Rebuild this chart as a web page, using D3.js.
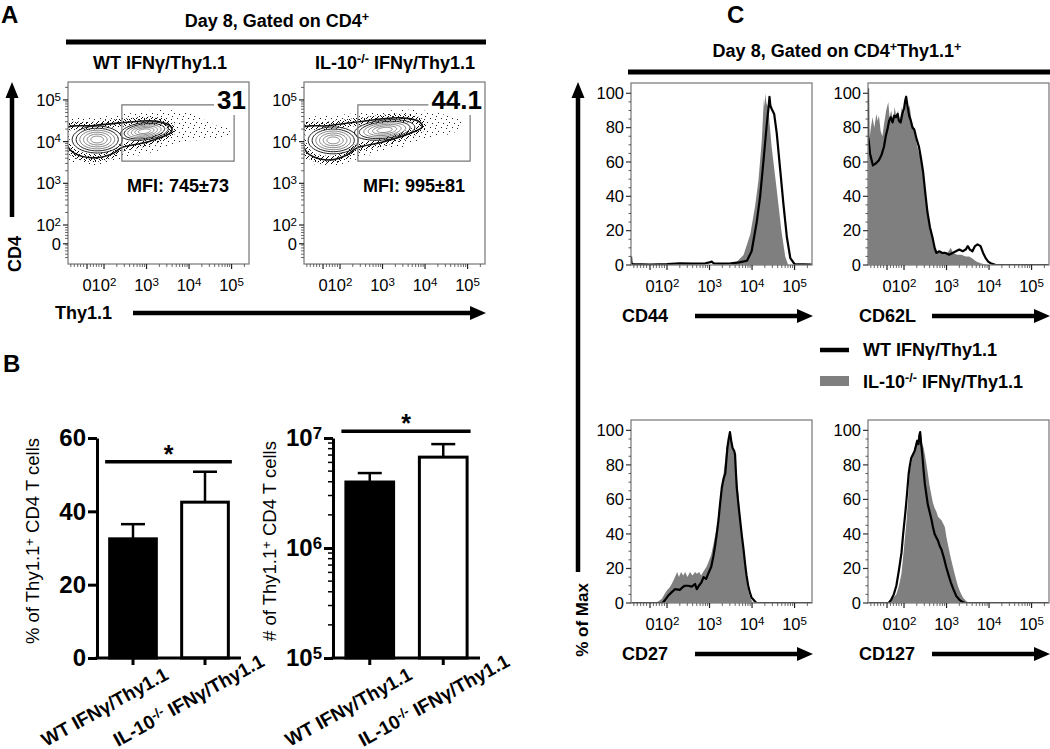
<!DOCTYPE html>
<html><head><meta charset="utf-8">
<script src="https://cdn.jsdelivr.net/npm/d3@7"></script>
<style>body{margin:0;background:#fff} svg{font-family:"Liberation Sans",Arial,Helvetica,sans-serif}</style>
</head><body><svg id="fig" width="1050" height="749"></svg>
<script>
// ================= DATA =================
const groups = ["WT IFNγ/Thy1.1", "IL-10^{-/-} IFNγ/Thy1.1"];
// Panel B
const pctMean = [32.5, 42.5];
const pctErr = [4.0, 8.3];
const pctTicks = [0, 20, 40, 60];
const pctSig = 53.5;
const countMean = [3.98e6, 6.7e6];
const countUpper = [4.8e6, 8.8e6];
const countTicks = [1e5, 1e6, 1e7];
const countTickLabels = ["10^{5}", "10^{6}", "10^{7}"];
const countSig = 1.15e7;
// Flow axes (logicle display position, in decades)
const flowTickPos = [1.6, 2, 3, 4, 5];
const flowTickLabels = ["0", "10^{2}", "10^{3}", "10^{4}", "10^{5}"];
const flowYTickPosA = [1.55, 2, 3, 4, 5];
const histTicks = [0, 20, 40, 60, 80, 100];
// Panel A
const gateNumbers = ["31", "44.1"];
const mfiLabels = ["MFI: 745±73", "MFI: 995±81"];
const gateBox = [2.42, 5.06, 3.53, 4.88];            // x0, x1, y0, y1
const envelopes = [
  [[1.13,4.33],[1.7,4.38],[2.4,4.45],[3.25,4.49],[3.58,4.35],[3.58,4.23],[3.01,3.99],[2.4,3.85],[2.24,3.73],[1.77,3.61],[1.29,3.73],[1.13,3.92]],
  [[1.13,4.33],[1.7,4.38],[2.4,4.47],[3.41,4.57],[3.88,4.47],[3.93,4.35],[3.72,4.23],[3.01,3.99],[2.4,3.85],[2.16,3.68],[1.76,3.56],[1.29,3.68],[1.13,3.92]]
];
const halos = [
  [[1.13,4.47],[1.91,4.59],[2.61,4.68],[3.32,4.76],[3.91,4.71],[4.26,4.57],[4.61,4.40],[4.96,4.28],[4.85,4.09],[4.26,4.04],[3.79,3.97],[3.32,3.80],[2.85,3.68],[2.38,3.56],[1.79,3.44],[1.32,3.51],[1.13,3.56]],
  [[1.13,4.49],[2.0,4.64],[2.71,4.71],[3.41,4.76],[4.0,4.74],[4.47,4.64],[4.87,4.47],[4.71,4.23],[4.12,4.09],[3.53,3.89],[2.94,3.75],[2.35,3.56],[1.76,3.41],[1.29,3.49],[1.13,3.56]]
];
const blobs = [
  [{cx:1.84, cy:4.05, rx:0.62, ry:0.34, rot:0}, {cx:2.95, cy:4.25, rx:0.6, ry:0.22, rot:8}],
  [{cx:1.84, cy:4.03, rx:0.62, ry:0.34, rot:0}, {cx:3.05, cy:4.28, rx:0.75, ry:0.25, rot:6}]
];
const ringScales = [0.95, 0.8, 0.66, 0.52, 0.38, 0.24];
// Panel C histograms: [display position, % of max]
const cd44Grey = [[1.153,0],[3.5,0],[3.64,1.9],[3.8,5.8],[3.96,18],[4.07,34],[4.15,49],[4.23,73],[4.26,88],[4.28,97],[4.30,92],[4.31,100],[4.34,94],[4.38,92],[4.46,69],[4.58,44],[4.69,20],[4.78,5],[4.85,0],[5.41,0]];
const cd44Black = [[1.153,5],[1.165,1],[1.2,0.5],[1.6,0.3],[2.0,0.5],[2.3,1],[2.6,0.8],[2.9,1],[3.0,1.5],[3.05,2],[3.1,1],[3.3,0.8],[3.5,1],[3.7,1.5],[3.88,2.5],[3.99,8],[4.11,25],[4.19,40],[4.27,61],[4.35,83],[4.39,92],[4.41,98],[4.43,93],[4.46,91],[4.52,88],[4.58,77],[4.66,56],[4.74,35],[4.82,16],[4.9,4],[5.0,0.5],[5.41,0.3]];
const cd62lGrey = [[1.153,0],[1.155,65],[1.18,72],[1.22,80],[1.26,86],[1.3,80],[1.35,88],[1.38,84],[1.41,87],[1.45,78],[1.49,75],[1.53,82],[1.58,90],[1.63,95],[1.66,86],[1.7,90],[1.74,84],[1.78,92],[1.82,86],[1.86,90],[1.9,84],[1.95,92],[2.0,88],[2.05,97],[2.09,90],[2.13,93],[2.18,84],[2.23,80],[2.28,73],[2.34,66],[2.4,61],[2.45,52],[2.49,44],[2.54,33],[2.59,25],[2.65,17],[2.71,12],[2.78,8],[2.85,7],[2.95,8],[3.02,7],[3.1,10],[3.15,7],[3.25,6],[3.35,6],[3.45,5],[3.53,5],[3.6,4],[3.7,2],[3.8,1],[3.9,0.5],[4.0,0],[5.41,0]];
const cd62lBlack = [[1.153,103],[1.16,75],[1.2,65],[1.27,58],[1.33,59],[1.41,61],[1.47,64],[1.53,69],[1.57,75],[1.61,79],[1.65,84],[1.69,86],[1.73,83],[1.77,87],[1.81,86],[1.85,88],[1.88,84],[1.92,83],[1.96,88],[2.0,91],[2.03,96],[2.05,98],[2.08,93],[2.12,87],[2.16,84],[2.2,80],[2.24,79],[2.3,73],[2.35,69],[2.4,62],[2.45,54],[2.5,42],[2.55,31],[2.61,22],[2.67,16],[2.72,10],[2.76,7],[2.83,8],[2.9,7],[2.98,7],[3.06,6],[3.14,7],[3.22,8],[3.3,9],[3.38,8],[3.45,9],[3.5,11],[3.55,9],[3.61,8],[3.67,11],[3.73,12],[3.8,11],[3.86,7],[3.92,4],[3.98,2],[4.04,1],[4.16,0],[5.41,0]];
const cd27Grey = [[1.153,0],[1.72,0],[1.8,1],[1.88,2.5],[1.94,5],[2.0,7.4],[2.06,9],[2.11,11],[2.17,14],[2.24,18],[2.28,15],[2.33,18],[2.38,16],[2.43,18],[2.48,15],[2.54,18],[2.6,16],[2.66,18],[2.7,17],[2.76,18],[2.8,16],[2.85,18],[2.93,21],[2.98,24],[3.04,28],[3.1,35],[3.17,44],[3.21,52],[3.25,61],[3.29,68],[3.33,75],[3.37,83],[3.4,90],[3.44,94],[3.47,97],[3.5,94],[3.55,89],[3.6,85],[3.64,74],[3.68,63],[3.72,51],[3.76,40],[3.8,29],[3.84,19],[3.88,12],[3.92,6],[3.96,3],[4.0,1],[4.05,0],[5.41,0]];
const cd27Black = [[1.153,0],[1.9,0],[1.96,2],[2.02,4],[2.1,6],[2.19,8],[2.3,7.6],[2.36,9],[2.42,10],[2.5,10],[2.58,9.5],[2.66,11],[2.7,8],[2.75,10],[2.81,12],[2.86,15],[2.92,14],[2.97,17],[3.04,21],[3.09,27],[3.13,33],[3.17,40],[3.21,48],[3.25,58],[3.29,67],[3.33,72],[3.37,75],[3.4,84],[3.42,90],[3.45,95],[3.48,99],[3.51,94],[3.54,90],[3.58,88],[3.6,86],[3.62,76],[3.64,67],[3.68,57],[3.72,48],[3.76,39],[3.8,31],[3.84,22],[3.87,16],[3.91,10],[3.95,6],[3.99,3],[4.03,2],[4.1,0],[5.41,0]];
const cd127Grey = [[1.153,0],[1.6,0],[1.66,1],[1.74,3],[1.82,5],[1.88,10],[1.94,17],[2.0,32],[2.06,48],[2.1,62],[2.13,75],[2.17,81],[2.21,86],[2.25,90],[2.29,94],[2.32,92],[2.35,97],[2.37,95],[2.4,98],[2.43,92],[2.46,90],[2.49,86],[2.53,80],[2.56,75],[2.6,68],[2.64,63],[2.68,58],[2.72,55],[2.76,53],[2.8,50],[2.84,49],[2.88,48],[2.92,46],[2.96,44],[3.0,38],[3.04,33],[3.1,26],[3.15,21],[3.21,15],[3.27,9.5],[3.33,6],[3.39,3],[3.45,1.5],[3.5,0.5],[3.55,0],[5.41,0]];
const cd127Black = [[1.153,0],[1.64,0],[1.7,2],[1.76,5],[1.82,10],[1.88,19],[1.94,29],[1.98,40],[2.03,52],[2.07,63],[2.11,75],[2.14,80],[2.17,84],[2.21,86],[2.25,88],[2.28,91],[2.31,94],[2.34,92],[2.36,97],[2.38,99],[2.4,93],[2.43,86],[2.46,77],[2.49,69],[2.53,62],[2.56,57],[2.6,53],[2.64,49],[2.68,44],[2.72,40],[2.76,38],[2.8,36],[2.84,33],[2.88,31],[2.94,26],[2.99,21],[3.05,16],[3.1,12],[3.16,8],[3.23,4],[3.3,2],[3.35,1],[3.43,0],[5.41,0]];
const markers = ["CD44", "CD62L", "CD27", "CD127"];

// ================= HELPERS =================
const svg = d3.select("#fig");
const defs = svg.append("defs");
const flowXDomain = [1.153, 5.41];
const flowYDomainA = [1.065, 5.43];
const flowMinor = [1.22,1.3,1.38,1.45,1.52,1.68,1.75,1.82,1.88,1.94]
  .concat(d3.range(2,5).flatMap(d => d3.range(2,10).map(k => d + Math.log10(k))))
  .concat([5 + Math.log10(2)]);

function rich(text, str) {
  text.text(null);
  const parts = str.split(/(\^\{[^}]*\})/).filter(p => p.length);
  let up = false;
  for (const p of parts) {
    if (p.startsWith("^{")) {
      text.append("tspan").attr("dy", "-0.45em").attr("font-size", "0.7em").text(p.slice(2, -1));
      up = true;
    } else {
      const t = text.append("tspan").text(p);
      if (up) t.attr("dy", "0.315em");
      up = false;
    }
  }
  return text;
}
function label(g, x, y, str, o = {}) {
  const t = g.append("text")
    .attr("transform", `translate(${x},${y}) rotate(${o.rotate || 0})`)
    .attr("font-size", o.size || 18)
    .attr("font-weight", o.weight || "bold")
    .attr("text-anchor", o.anchor || "start")
    .attr("fill", "#000");
  if (o.dy) t.attr("dy", o.dy);
  return rich(t, str);
}
function hArrow(x1, x2, y, w = 4.5) {
  svg.append("line").attr("x1", x1).attr("x2", x2 - 12).attr("y1", y).attr("y2", y)
    .attr("stroke", "#000").attr("stroke-width", w);
  svg.append("path").attr("d", `M${x2},${y}L${x2 - 16},${y - 7}L${x2 - 16},${y + 7}Z`).attr("fill", "#000");
}
function vArrow(x, y1, y2, w = 4.5) {
  svg.append("line").attr("x1", x).attr("x2", x).attr("y1", y1).attr("y2", y2 + 12)
    .attr("stroke", "#000").attr("stroke-width", w);
  svg.append("path").attr("d", `M${x},${y2}L${x - 6.5},${y2 + 16}L${x + 6.5},${y2 + 16}Z`).attr("fill", "#000");
}

// stipple patterns (dot texture of the scatter)
const pd = defs.append("pattern").attr("id", "dense").attr("width", 5).attr("height", 5).attr("patternUnits", "userSpaceOnUse");
[[0,0],[3,1],[1,3],[4,4],[2,2]].forEach(([a,b]) => pd.append("rect").attr("x", a).attr("y", b).attr("width", 1).attr("height", 1).attr("fill", "#000"));
const ps = defs.append("pattern").attr("id", "sparse").attr("width", 11).attr("height", 9).attr("patternUnits", "userSpaceOnUse");
[[1,1],[6,2],[9,5],[3,6],[7,8]].forEach(([a,b]) => ps.append("rect").attr("x", a).attr("y", b).attr("width", 1).attr("height", 1).attr("fill", "#222"));

function flowXAxis(g, x, yb) {
  flowMinor.forEach(v => g.append("line").attr("x1", x(v)).attr("x2", x(v)).attr("y1", yb).attr("y2", yb + 3).attr("stroke", "#444").attr("stroke-width", 0.8));
  flowTickPos.forEach((v, i) => {
    g.append("line").attr("x1", x(v)).attr("x2", x(v)).attr("y1", yb).attr("y2", yb + 5).attr("stroke", "#222").attr("stroke-width", 1.2);
    label(g, x(v), yb + 27, flowTickLabels[i], {size: 16.5, weight: "normal", anchor: "middle"});
  });
}

// ================= PANEL A =================
label(svg, 1, 23, "A", {size: 24});
label(svg, 277, 27, "Day 8, Gated on CD4^{+}", {size: 18, anchor: "middle"});
svg.append("line").attr("x1", 66).attr("x2", 486).attr("y1", 42).attr("y2", 42).attr("stroke", "#000").attr("stroke-width", 5);
label(svg, 160, 69, groups[0], {size: 18, anchor: "middle"});
label(svg, 395, 69, groups[1], {size: 18, anchor: "middle"});

function flowPlotA(x0, idx) {
  const y0 = 82, w = 181, h = 182;
  const x = d3.scaleLinear().domain(flowXDomain).range([x0, x0 + w]);
  const y = d3.scaleLinear().domain(flowYDomainA).range([y0 + h, y0]);
  const g = svg.append("g");
  const clipId = "clipA" + idx;
  defs.append("clipPath").attr("id", clipId).append("rect").attr("x", x0).attr("y", y0).attr("width", w).attr("height", h);
  const pg = g.append("g").attr("clip-path", `url(#${clipId})`);
  const closed = d3.line().x(d => x(d[0])).y(d => y(d[1])).curve(d3.curveCatmullRomClosed.alpha(0.5));
  pg.append("path").attr("d", closed(halos[idx])).attr("fill", "url(#sparse)");
  pg.append("path").attr("d", closed(envelopes[idx])).attr("fill", "#fff").attr("stroke", "url(#dense)").attr("stroke-width", 8);
  blobs[idx].forEach(b => ringScales.forEach((s, i) => {
    const r = b.rot * Math.PI / 180;
    const pts = d3.range(0, 48).map(k => {
      const t = k / 48 * 2 * Math.PI;
      const ex = b.rx * s * Math.cos(t), ey = b.ry * s * Math.sin(t);
      return [b.cx + ex * Math.cos(r) - ey * Math.sin(r), b.cy + ex * Math.sin(r) + ey * Math.cos(r)];
    });
    pg.append("path").attr("d", closed(pts)).attr("fill", "none")
      .attr("stroke", i < 2 ? "#222" : "#666").attr("stroke-width", i < 2 ? 1 : 0.8);
  }));
  pg.append("path").attr("d", closed(envelopes[idx])).attr("fill", "none").attr("stroke", "#111").attr("stroke-width", 1.6);

  // gate
  const gx0 = x(gateBox[0]), gx1 = x(gateBox[1]), gy0 = y(gateBox[2]), gy1 = y(gateBox[3]);
  const num = label(g, x0 + w - 3, gy1 + 4, gateNumbers[idx], {size: 26, anchor: "end"});
  const numW = num.node().getComputedTextLength();
  const gate = g.append("g").attr("stroke", "#777").attr("stroke-width", 1.2).attr("fill", "none");
  gate.append("path").attr("d", `M${x0 + w - 3 - numW - 3},${gy1}H${gx0}V${gy0}H${gx1}V${gy1 + 10}`);
  label(g, x0 + 110, 192, mfiLabels[idx], {size: 18, anchor: "middle"});

  // frame
  g.append("rect").attr("x", x0).attr("y", y0).attr("width", w).attr("height", h).attr("fill", "none").attr("stroke", "#808080").attr("stroke-width", 1.3);
  flowXAxis(g, x, y0 + h);
  flowMinor.filter(v => v < flowYDomainA[1]).forEach(v => g.append("line").attr("x1", x0 - 3).attr("x2", x0).attr("y1", y(v)).attr("y2", y(v)).attr("stroke", "#444").attr("stroke-width", 0.8));
  flowYTickPosA.forEach((v, i) => {
    g.append("line").attr("x1", x0 - 5).attr("x2", x0).attr("y1", y(v)).attr("y2", y(v)).attr("stroke", "#222").attr("stroke-width", 1.2);
    label(g, x0 - 7, y(v) + 6, flowTickLabels[i], {size: 16.5, weight: "normal", anchor: "end"});
  });
}
flowPlotA(68, 0);
flowPlotA(304, 1);
vArrow(12, 217, 82);
label(svg, 15, 254, "CD4", {size: 18, anchor: "middle", rotate: -90, dy: "0.35em"});
label(svg, 55, 319, "Thy1.1", {size: 18});
hArrow(133, 486, 313);

// ================= PANEL B =================
label(svg, 3, 372, "B", {size: 24});
function barChart(opts) {
  const g = svg.append("g");
  const xb = d3.scaleBand().domain(groups).range([opts.xl, opts.xr]).paddingInner(0.31).paddingOuter(0.155);
  const y = opts.y;
  const base = 658;
  groups.forEach((c, i) => {
    g.append("rect").attr("x", xb(c) + 1.5).attr("width", xb.bandwidth() - 3)
      .attr("y", y(opts.mean[i])).attr("height", base - y(opts.mean[i]))
      .attr("fill", i === 0 ? "#000" : "#fff").attr("stroke", "#000").attr("stroke-width", 3);
    const cx = xb(c) + xb.bandwidth() / 2;
    const top = y(opts.upper[i]);
    g.append("line").attr("x1", cx).attr("x2", cx).attr("y1", y(opts.mean[i])).attr("y2", top).attr("stroke", "#000").attr("stroke-width", 2.5);
    g.append("line").attr("x1", cx - 12).attr("x2", cx + 12).attr("y1", top).attr("y2", top).attr("stroke", "#000").attr("stroke-width", 2.5);
    g.append("line").attr("x1", cx).attr("x2", cx).attr("y1", base).attr("y2", base + 7).attr("stroke", "#000").attr("stroke-width", 3);
    label(g, cx - opts.lblOff, 747, c, {size: 19, rotate: -29});
  });
  const ax = g.append("g").attr("transform", `translate(${opts.xl},0)`)
    .call(d3.axisLeft(y).tickValues(opts.ticks).tickSize(9).tickSizeOuter(0).tickPadding(2));
  ax.select(".domain").attr("stroke-width", 3);
  ax.selectAll(".tick line").attr("stroke-width", 3);
  ax.selectAll(".tick text").attr("font-family", "'Liberation Sans', Arial, sans-serif")
    .attr("font-size", 24).attr("font-weight", "bold")
    .each(function(d, i) { rich(d3.select(this), opts.tickLabels[i]); });
  if (opts.minor) opts.minor.forEach(v => g.append("line").attr("x1", opts.xl - 5).attr("x2", opts.xl).attr("y1", y(v)).attr("y2", y(v)).attr("stroke", "#000").attr("stroke-width", 1.5));
  g.append("line").attr("x1", opts.xl - 1.5).attr("x2", opts.xr).attr("y1", base).attr("y2", base).attr("stroke", "#000").attr("stroke-width", 3);
  const sy = y(opts.sig);
  const sx0 = xb(groups[0]) - 3, sx1 = xb(groups[1]) + xb.bandwidth() + 2;
  g.append("line").attr("x1", sx0).attr("x2", sx1).attr("y1", sy).attr("y2", sy).attr("stroke", "#000").attr("stroke-width", 3.5);
  label(g, (sx0 + sx1) / 2, sy + 1, "*", {size: 25, anchor: "middle"});
  label(g, opts.ylabX, 541, opts.ylab, {size: 18.5, weight: "normal", anchor: "middle", rotate: -90, dy: "0.35em"});
}
barChart({
  xl: 97, xr: 241, y: d3.scaleLinear().domain([0, 60]).range([658, 438]),
  mean: pctMean, upper: pctMean.map((m, i) => m + pctErr[i]),
  ticks: pctTicks, tickLabels: pctTicks.map(String), sig: pctSig, lblOff: 87,
  ylab: "% of Thy1.1^{+} CD4 T cells", ylabX: 33
});
const yCount = d3.scaleLog().domain([1e5, 1e7]).range([658, 438]);
barChart({
  xl: 333, xr: 480, y: yCount,
  mean: countMean, upper: countUpper,
  ticks: countTicks, tickLabels: countTickLabels, sig: countSig, lblOff: 80,
  minor: [1e5, 1e6].flatMap(d => d3.range(2, 10).map(k => k * d)),
  ylab: "# of Thy1.1^{+} CD4 T cells", ylabX: 270
});

// ================= PANEL C =================
label(svg, 727, 23, "C", {size: 24});
label(svg, 837, 57, "Day 8, Gated on CD4^{+}Thy1.1^{+}", {size: 18, anchor: "middle"});
svg.append("line").attr("x1", 628).attr("x2", 1050).attr("y1", 72).attr("y2", 72).attr("stroke", "#000").attr("stroke-width", 5);

function histPlot(x0, y0, h, grey, black, name, idx) {
  const w = 181;
  const x = d3.scaleLinear().domain(flowXDomain).range([x0, x0 + w]);
  const y = d3.scaleLinear().domain([0, 106]).range([y0 + h, y0]);
  const g = svg.append("g");
  const clipId = "clipC" + idx;
  defs.append("clipPath").attr("id", clipId).append("rect").attr("x", x0).attr("y", y0 - 1).attr("width", w).attr("height", h + 1);
  const pg = g.append("g").attr("clip-path", `url(#${clipId})`);
  pg.append("path").attr("d", d3.area().x(d => x(d[0])).y0(y(0)).y1(d => y(d[1]))(grey)).attr("fill", "#7f7f7f");
  pg.append("path").attr("d", d3.line().x(d => x(d[0])).y(d => y(d[1]))(black))
    .attr("fill", "none").attr("stroke", "#000").attr("stroke-width", 2.2).attr("stroke-linejoin", "round");
  g.append("rect").attr("x", x0).attr("y", y0).attr("width", w).attr("height", h).attr("fill", "none").attr("stroke", "#808080").attr("stroke-width", 1.3);
  flowXAxis(g, x, y0 + h);
  d3.range(0, 101, 5).forEach(v => g.append("line").attr("x1", x0 - (v % 20 === 0 ? 5 : 2.5)).attr("x2", x0).attr("y1", y(v)).attr("y2", y(v)).attr("stroke", "#333").attr("stroke-width", v % 20 === 0 ? 1.2 : 0.8));
  histTicks.forEach(v => label(g, x0 - 7, y(v), String(v), {size: 16.5, weight: "normal", anchor: "end", dy: "0.35em"}));
  const ly = y0 + h + 51;
  label(svg, x0 - 9, ly + 6, name, {size: 18});
  hArrow(x0 + 64, x0 + 182, ly);
}
histPlot(631, 83, 182, cd44Grey, cd44Black, markers[0], 0);
histPlot(868, 83, 182, cd62lGrey, cd62lBlack, markers[1], 1);
histPlot(631, 420, 183, cd27Grey, cd27Black, markers[2], 2);
histPlot(868, 420, 183, cd127Grey, cd127Black, markers[3], 3);
vArrow(578, 572, 82);
label(svg, 582, 620, "% of Max", {size: 17, anchor: "middle", rotate: -90, dy: "0.35em"});

// legend
svg.append("line").attr("x1", 820).attr("x2", 849).attr("y1", 350).attr("y2", 350).attr("stroke", "#000").attr("stroke-width", 4.5);
label(svg, 863, 356, groups[0], {size: 18});
svg.append("rect").attr("x", 820).attr("y", 376).attr("width", 29).attr("height", 10).attr("fill", "#7f7f7f");
label(svg, 863, 388, groups[1], {size: 18});
</script></body></html>
